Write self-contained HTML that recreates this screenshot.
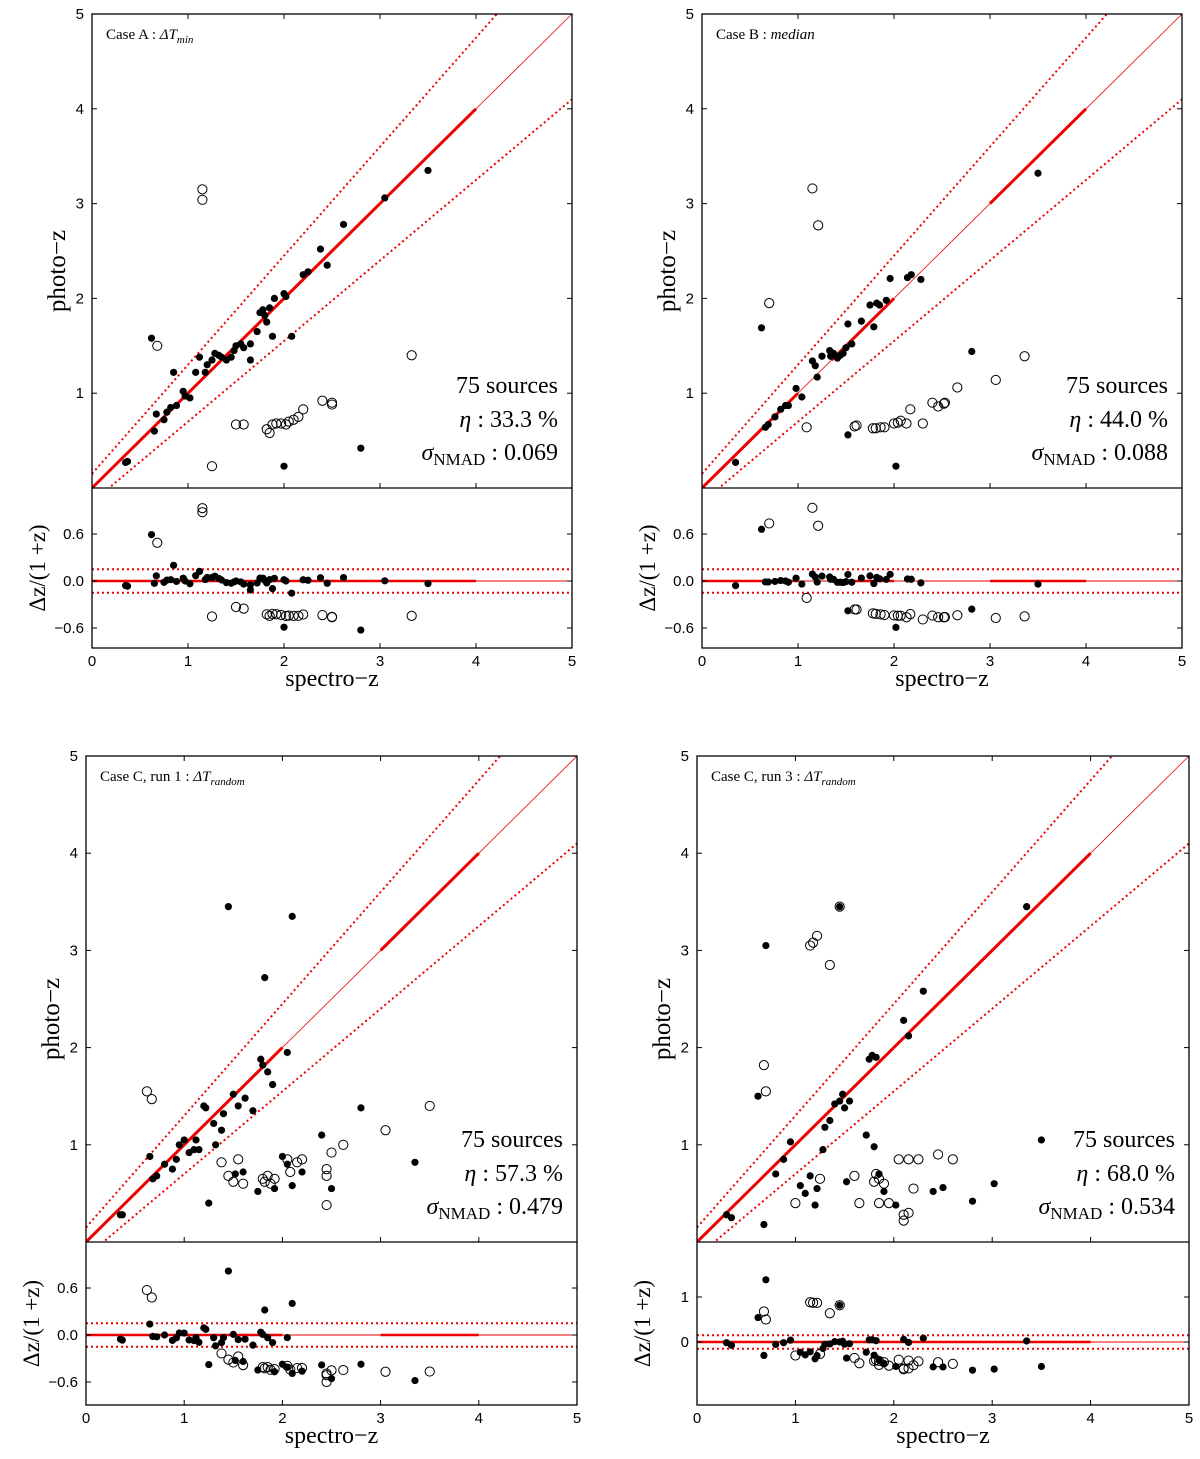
<!DOCTYPE html>
<html><head><meta charset="utf-8"><style>
body{margin:0;background:#fff;}
svg{display:block;}
</style></head><body>
<svg id="fig" width="1200" height="1459" xmlns="http://www.w3.org/2000/svg"></svg>
<script>
// ---- data (spectro-z, photo-z) ----
const aFilledX=[0.35,0.37,0.62,0.65,0.67,0.75,0.78,0.82,0.85,0.88,0.95,0.97,1.02,1.08,1.12,1.18,1.2,1.25,1.28,1.32,1.35,1.4,1.45,1.48,1.5,1.55,1.58,1.65,1.65,1.72,1.75,1.78,1.8,1.82,1.85,1.88,1.9,2.0,2.02,2.08,2.2,2.25,2.38,2.45,2.62,3.05,3.5,2.0,2.8];
const aFilledY=[0.27,0.28,1.58,0.6,0.78,0.72,0.8,0.85,1.22,0.87,1.02,0.97,0.95,1.22,1.38,1.22,1.3,1.35,1.42,1.4,1.38,1.35,1.38,1.45,1.5,1.52,1.48,1.35,1.52,1.65,1.85,1.88,1.82,1.75,1.9,1.6,2.0,2.05,2.02,1.6,2.25,2.28,2.52,2.35,2.78,3.06,3.35,0.23,0.42];
const aOpenX=[1.15,1.15,0.68,1.25,1.5,1.58,1.82,1.85,1.88,1.92,1.97,2.02,2.05,2.1,2.15,2.2,2.4,2.5,2.5,3.33];
const aOpenY=[3.15,3.04,1.5,0.23,0.67,0.67,0.62,0.58,0.67,0.68,0.68,0.67,0.7,0.72,0.75,0.83,0.92,0.9,0.88,1.4];
const bFilledX=[0.35,0.62,0.66,0.69,0.76,0.82,0.87,0.9,0.98,1.04,1.15,1.18,1.2,1.25,1.33,1.34,1.37,1.41,1.44,1.47,1.5,1.52,1.56,1.66,1.79,1.75,1.82,1.85,1.92,1.96,2.14,2.18,2.28,3.5,2.81,1.52,2.02];
const bFilledY=[0.27,1.69,0.64,0.67,0.75,0.83,0.87,0.87,1.05,0.96,1.34,1.29,1.17,1.39,1.45,1.39,1.42,1.37,1.4,1.42,1.48,1.73,1.52,1.76,1.7,1.93,1.95,1.93,1.98,2.21,2.22,2.25,2.2,3.32,1.44,0.56,0.23];
const bOpenX=[1.15,1.21,0.7,1.09,1.59,1.61,1.78,1.81,1.86,1.9,2.0,2.04,2.07,2.13,2.17,2.3,2.4,2.46,2.52,2.53,2.66,3.06,3.36];
const bOpenY=[3.16,2.77,1.95,0.64,0.65,0.66,0.63,0.63,0.64,0.64,0.68,0.69,0.71,0.68,0.83,0.68,0.9,0.86,0.89,0.9,1.06,1.14,1.39];
const cFilledX=[0.35,0.37,0.65,0.68,0.72,0.8,0.88,0.92,0.95,1.0,1.05,1.1,1.12,1.15,1.2,1.22,1.25,1.3,1.32,1.38,1.4,1.45,1.5,1.52,1.55,1.6,1.62,1.7,1.75,1.78,1.82,1.8,1.85,1.9,1.92,2.05,2.1,2.0,2.05,2.1,2.2,2.4,2.5,2.8,3.35];
const cFilledY=[0.28,0.28,0.88,0.65,0.68,0.8,0.75,0.85,1.0,1.05,0.92,0.95,1.05,0.95,1.4,1.38,0.4,1.22,1.0,1.15,1.32,3.45,1.52,0.7,1.4,0.72,1.48,1.35,0.52,1.88,2.72,1.82,1.75,1.62,0.55,1.95,3.35,0.88,0.8,0.58,0.72,1.1,0.55,1.38,0.82];
const cOpenX=[0.62,0.67,1.38,1.45,1.5,1.55,1.6,1.8,1.82,1.85,1.88,1.92,2.05,2.08,2.15,2.2,2.45,2.45,2.5,2.62,2.45,3.05,3.5];
const cOpenY=[1.55,1.47,0.82,0.68,0.62,0.85,0.6,0.65,0.62,0.68,0.6,0.65,0.85,0.72,0.82,0.85,0.75,0.68,0.92,1.0,0.38,1.15,1.4];
const dFilledX=[0.3,0.35,0.62,0.68,0.7,0.8,0.88,0.95,1.05,1.1,1.15,1.2,1.22,1.28,1.3,1.35,1.4,1.45,1.45,1.48,1.5,1.55,1.52,1.72,1.75,1.78,1.82,1.8,1.85,1.9,2.02,2.1,2.15,2.3,2.4,2.5,2.8,3.02,3.35,3.5];
const dFilledY=[0.28,0.25,1.5,0.18,3.05,0.7,0.85,1.03,0.58,0.5,0.68,0.38,0.55,0.95,1.18,1.25,1.42,1.45,3.45,1.52,1.38,1.45,0.62,1.1,1.88,1.92,1.9,0.98,0.7,0.52,0.38,2.28,2.12,2.58,0.52,0.56,0.42,0.6,3.45,1.05];
const dOpenX=[0.68,0.7,1.15,1.18,1.22,1.35,1.45,1.0,1.25,1.6,1.8,1.82,1.85,1.9,1.95,2.05,2.15,2.1,2.1,2.15,2.25,2.45,2.6,1.65,1.85,2.2];
const dOpenY=[1.82,1.55,3.05,3.08,3.15,2.85,3.45,0.4,0.65,0.68,0.62,0.7,0.65,0.6,0.4,0.85,0.85,0.28,0.22,0.3,0.85,0.9,0.85,0.4,0.4,0.55];
const mainTicks=[1,2,3,4];
const xTicks=[0,1,2,3,4,5];
const resTicksABC=[0.6,0.0,-0.6];
const resTicksD=[1,0];
const resLabelsABC=["0.6","0.0","\u22120.6"];
const resLabelsD=["1","0"];

const NS="http://www.w3.org/2000/svg";
const svg=document.getElementById('fig');
function el(tag,attrs,parent){const e=document.createElementNS(NS,tag);for(const k in attrs)e.setAttribute(k,attrs[k]);(parent||svg).appendChild(e);return e;}

const panels=[
 {id:'a',L:92,R:572,T:14,M:488,B:648,r0:581,rs:78.3,fx:aFilledX,fy:aFilledY,ox:aOpenX,oy:aOpenY,rt:resTicksABC,rl:resLabelsABC,
  thick:[[0,3],[3,4]],title:'Case A : ',tsub:'\u0394T',tsubi:'min',eta:'33.3',sig:'0.069'},
 {id:'b',L:702,R:1182,T:14,M:488,B:648,r0:581,rs:78.3,fx:bFilledX,fy:bFilledY,ox:bOpenX,oy:bOpenY,rt:resTicksABC,rl:resLabelsABC,
  thick:[[0,1],[1.35,2],[3,4]],title:'Case B : ',tsub:'median',tsubi:'',eta:'44.0',sig:'0.088'},
 {id:'c',L:86,R:577,T:756,M:1242,B:1405,r0:1335,rs:78.3,fx:cFilledX,fy:cFilledY,ox:cOpenX,oy:cOpenY,rt:resTicksABC,rl:resLabelsABC,
  thick:[[0,2],[3,4]],title:'Case C, run 1 : ',tsub:'\u0394T',tsubi:'random',eta:'57.3',sig:'0.479'},
 {id:'d',L:697,R:1189,T:756,M:1242,B:1405,r0:1342,rs:45,fx:dFilledX,fy:dFilledY,ox:dOpenX,oy:dOpenY,rt:resTicksD,rl:resLabelsD,
  thick:[[0,2],[2,4]],title:'Case C, run 3 : ',tsub:'\u0394T',tsubi:'random',eta:'68.0',sig:'0.534'}
];
const serif='"Liberation Serif",serif', sans='"Liberation Sans",sans-serif';

panels.forEach(p=>{
 const g=el('g',{});
 
 
 const sx=v=>p.L+v*(p.R-p.L)/5;
 const sy=v=>p.M-v*(p.M-p.T)/5;
 const ry=v=>p.r0-v*p.rs;
 const clipId='clip'+p.id, clipR='clipr'+p.id;
 const defs=el('defs',{},g);
 const c1=el('clipPath',{id:clipId},defs);el('rect',{x:p.L,y:p.T,width:p.R-p.L,height:p.M-p.T},c1);
 const c2=el('clipPath',{id:clipR},defs);el('rect',{x:p.L,y:p.M,width:p.R-p.L,height:p.B-p.M},c2);
 const gm=el('g',{'clip-path':'url(#'+clipId+')'},g);
 const ln=el('line',{x1:sx(0),y1:sy(0),x2:sx(5),y2:sy(5),stroke:'#e00',"stroke-width":0.8},gm);
 
 p.thick.forEach(s=>{const t=el('line',{x1:sx(s[0]),y1:sy(s[0]),x2:sx(s[1]),y2:sy(s[1]),stroke:'#e00',"stroke-width":3},gm);
  });
 [0.15,-0.15].forEach(k=>{const d=el('line',{x1:sx(0),y1:sy(k),x2:sx(5),y2:sy(5+k*6),stroke:'#e00',"stroke-width":2,"stroke-dasharray":"2,3"},gm);
  });
 const gr=el('g',{'clip-path':'url(#'+clipR+')'},g);
 [0.15,-0.15].forEach(k=>{const d=el('line',{x1:p.L,y1:ry(k),x2:p.R,y2:ry(k),stroke:'#e00',"stroke-width":2,"stroke-dasharray":"2,3"},gr);
  });
 const z=el('line',{x1:p.L,y1:ry(0),x2:p.R,y2:ry(0),stroke:'#e00',"stroke-width":1},gr);
 
 p.thick.forEach(s=>{const t=el('line',{x1:sx(s[0]),y1:ry(0),x2:sx(s[1]),y2:ry(0),stroke:'#e00',"stroke-width":2.5},gr);
  });
 function pts(xs,ys,filled){
  xs.forEach((x,i)=>{const y=ys[i];
   const c=el('circle',{cx:sx(x),cy:sy(y),r:filled?3.6:4.6,fill:filled?'#000':'none',stroke:'#000','stroke-width':filled?0:1},gm);
   
   
   const res=(y-x)/(1+x);
   const c2=el('circle',{cx:sx(x),cy:ry(res),r:filled?3.6:4.6,fill:filled?'#000':'none',stroke:'#000','stroke-width':filled?0:1},gr);
   
   
  });
 }
 pts(p.ox,p.oy,false);pts(p.fx,p.fy,true);
 el('rect',{x:p.L,y:p.T,width:p.R-p.L,height:p.B-p.T,fill:'none',stroke:'#000','stroke-width':1.3},g);
 el('line',{x1:p.L,y1:p.M,x2:p.R,y2:p.M,stroke:'#000','stroke-width':1.3},g);
 xTicks.forEach(v=>{
  [p.M,p.B].forEach(yb=>{el('line',{x1:sx(v),y1:yb,x2:sx(v),y2:yb-5,stroke:'#000'},g);});
  el('line',{x1:sx(v),y1:p.T,x2:sx(v),y2:p.T+5,stroke:'#000'},g);
  const t=el('text',{x:sx(v),y:p.B+18,'font-family':sans,'font-size':15,'text-anchor':'middle'},g);t.textContent=v;
  
 });
 mainTicks.concat([5]).forEach(v=>{
  el('line',{x1:p.L,y1:sy(v),x2:p.L+5,y2:sy(v),stroke:'#000'},g);
  el('line',{x1:p.R,y1:sy(v),x2:p.R-5,y2:sy(v),stroke:'#000'},g);
  const t=el('text',{x:p.L-8,y:sy(v)+5,'font-family':sans,'font-size':15,'text-anchor':'end'},g);t.textContent=v;
  
 });
 p.rt.forEach((v,i)=>{
  el('line',{x1:p.L,y1:ry(v),x2:p.L+5,y2:ry(v),stroke:'#000'},g);
  el('line',{x1:p.R,y1:ry(v),x2:p.R-5,y2:ry(v),stroke:'#000'},g);
  const t=el('text',{x:p.L-8,y:ry(v)+5,'font-family':sans,'font-size':15,'text-anchor':'end'},g);t.textContent=p.rl[i];
  
 });
 const cx=(p.L+p.R)/2;
 const xl=el('text',{x:cx,y:p.B+38,'font-family':serif,'font-size':24,'text-anchor':'middle'},g);xl.textContent='spectro\u2212z';
 
 const ym=(p.T+p.M)/2+20, yx=p.L-27;
 const yl=el('text',{x:yx,y:ym,'font-family':serif,'font-size':25,'text-anchor':'middle',transform:`rotate(-90 ${yx} ${ym})`},g);yl.textContent='photo\u2212z';
 
 const rm=(p.M+p.B)/2, rx=p.L-47;
 const rl=el('text',{x:rx,y:rm,'font-family':serif,'font-size':23,'text-anchor':'middle',transform:`rotate(-90 ${rx} ${rm})`},g);rl.textContent='\u0394z/(1 +z)';
 
 const ct=el('text',{x:p.L+14,y:p.T+25,'font-family':serif,'font-size':15},g);
 
 ct.appendChild(document.createTextNode(p.title));
 const ts=el('tspan',{'font-style':'italic'},ct);ts.textContent=p.tsub;
 if(p.tsubi){const t2=el('tspan',{'font-style':'italic','font-size':11,dy:4},ct);t2.textContent=p.tsubi;}
 const rx2=p.R-14;
 const s1=el('text',{x:rx2,y:p.M-95,'font-family':serif,'font-size':24,'text-anchor':'end'},g);s1.textContent='75 sources';
 
 const s2=el('text',{x:rx2,y:p.M-61,'font-family':serif,'font-size':24,'text-anchor':'end'},g);
 
 const e1=el('tspan',{'font-style':'italic'},s2);e1.textContent='\u03b7';
 s2.appendChild(document.createTextNode(' : '+p.eta+' %'));
 const s3=el('text',{x:rx2,y:p.M-28,'font-family':serif,'font-size':24,'text-anchor':'end'},g);
 
 const e2=el('tspan',{'font-style':'italic'},s3);e2.textContent='\u03c3';
 const e3=el('tspan',{'font-size':17,dy:5},s3);e3.textContent='NMAD';
 const e4=el('tspan',{dy:-5},s3);e4.textContent=' : '+p.sig;
});
</script>
</body></html>
